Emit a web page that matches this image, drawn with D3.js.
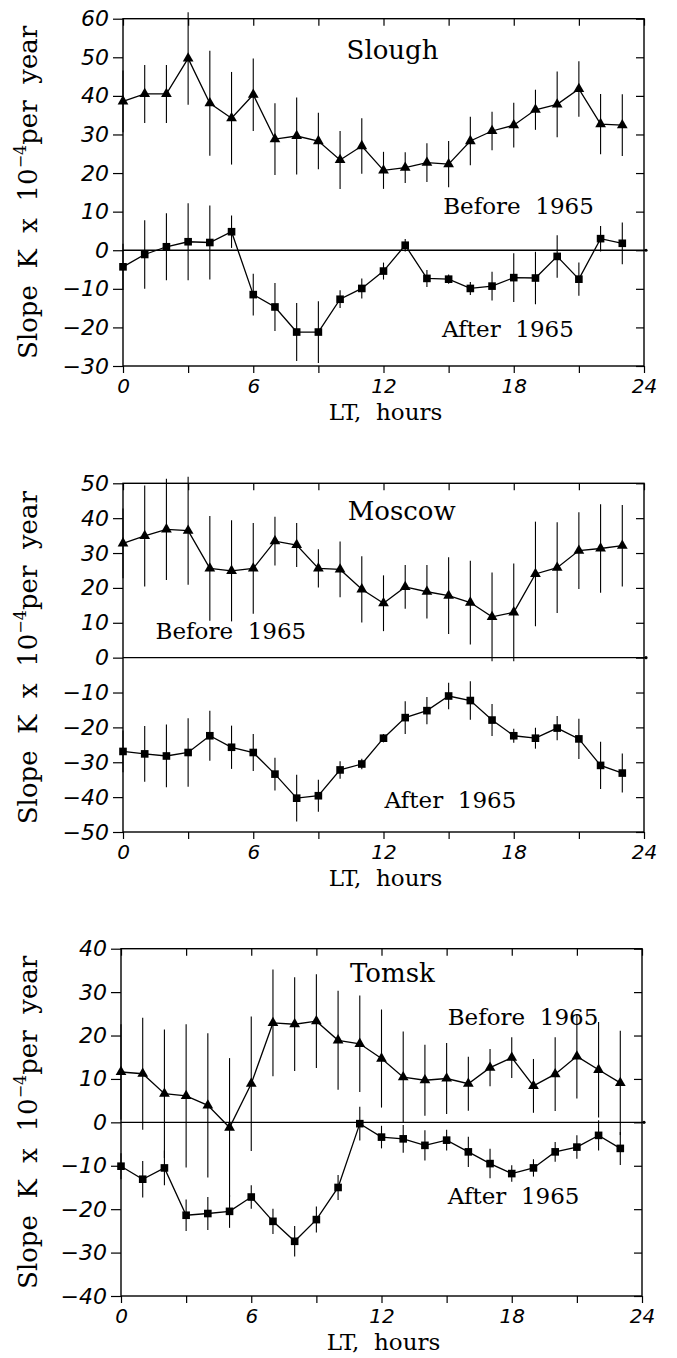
<!DOCTYPE html>
<html>
<head>
<meta charset="utf-8">
<script src="https://cdn.jsdelivr.net/npm/d3@7/dist/d3.min.js"></script>
<style>
  body { margin: 0; background: #fff; }
  svg { display: block; }
</style>
</head>
<body>
<svg id="chart" width="677" height="1358"></svg>
<script>
const hours = [0, 1, 2, 3, 4, 5, 6, 7, 8, 9, 10, 11, 12, 13, 14, 15, 16, 17, 18, 19, 20, 21, 22, 23];
const xTicks = [0, 3, 6, 9, 12, 15, 18, 21, 24];
const xLabelTicks = [0, 6, 12, 18, 24];

const stations = ["Slough", "Moscow", "Tomsk"];
const seriesNames = ["Before  1965", "After  1965"];
const yDomains = [[-30, 60], [-50, 50], [-40, 40]];
const yTicks = [
    [-30, -20, -10, 0, 10, 20, 30, 40, 50, 60],
    [-50, -40, -30, -20, -10, 0, 10, 20, 30, 40, 50],
    [-40, -30, -20, -10, 0, 10, 20, 30, 40]
];

// Slough
const sloughBefore = [38.6, 40.5, 40.5, 49.7, 38.1, 34.2, 40.3, 28.8, 29.6, 28.3, 23.4, 27.0, 20.7, 21.4, 22.7, 22.3, 28.3, 30.9, 32.4, 36.4, 37.8, 41.8, 32.7, 32.4];
const sloughBeforeErr = [8, 7.5, 7.5, 12, 13.6, 12, 9.4, 9.3, 10, 7.3, 7.5, 7.2, 4.8, 4, 5, 6, 6.3, 5, 5.8, 5.2, 8.5, 7.2, 7.8, 8];
const sloughAfter = [-4.3, -1.1, 0.9, 2.2, 2.0, 4.8, -11.5, -14.7, -21.2, -21.2, -12.7, -9.9, -5.4, 1.3, -7.3, -7.5, -9.9, -9.3, -7.1, -7.2, -1.6, -7.5, 3.0, 1.8];
const sloughAfterErr = [6, 8.9, 8.7, 10, 9.6, 4.2, 5.4, 6.2, 7.5, 8, 2.3, 2.6, 2.2, 1.6, 2.2, 1.2, 1.7, 3.7, 6.3, 6.8, 5.5, 4.3, 3.3, 5.4];

// Moscow
const moscowBefore = [32.8, 34.9, 36.8, 36.4, 25.6, 24.9, 25.6, 33.4, 32.3, 25.6, 25.3, 19.6, 15.6, 20.3, 18.9, 17.8, 15.8, 11.7, 13.0, 24.0, 25.8, 30.7, 31.3, 32.1];
const moscowBeforeErr = [10, 14.5, 14.5, 15.5, 15, 14.5, 13, 7, 6.3, 5.5, 8, 9.5, 8, 6.3, 7.7, 11, 12, 12.7, 14, 15, 13, 11, 12.7, 11.7];
const moscowAfter = [-26.9, -27.6, -28.2, -27.2, -22.4, -25.7, -27.2, -33.4, -40.3, -39.6, -32.2, -30.5, -23.1, -17.2, -15.2, -11.0, -12.3, -17.9, -22.4, -23.1, -20.2, -23.3, -30.9, -33.1];
const moscowAfterErr = [6, 8, 9, 9.8, 7.2, 6.2, 5.3, 4.7, 6.7, 4.6, 2.5, 1.5, 1.2, 4.7, 3.9, 3.8, 5.5, 4.6, 2, 3, 3.5, 5.8, 6.8, 5.6];

// Tomsk
const tomskBefore = [11.6, 11.2, 6.6, 6.1, 3.9, -1.2, 8.9, 22.9, 22.6, 23.3, 18.9, 18.1, 14.7, 10.4, 9.7, 10.1, 8.9, 12.6, 14.9, 8.4, 11.1, 15.2, 12.1, 9.1];
const tomskBeforeErr = [11, 12.9, 14.8, 16.5, 16.6, 16, 15.5, 12.3, 10.8, 10.8, 11.4, 11.1, 11.3, 10.5, 8.2, 8.2, 6.2, 4.3, 4.7, 6.2, 8.5, 9.7, 11, 12];
const tomskAfter = [-10.1, -13.1, -10.5, -21.4, -21.0, -20.5, -17.2, -22.8, -27.4, -22.4, -15.0, -0.3, -3.4, -3.8, -5.3, -4.1, -6.8, -9.5, -11.8, -10.5, -6.8, -5.7, -3.0, -6.0];
const tomskAfterErr = [3, 4.2, 4, 3.6, 3.8, 3.8, 2.7, 2.9, 3.5, 3, 2.9, 3.9, 2.6, 3.2, 3.5, 2.4, 3.5, 3.4, 1.9, 2, 2.3, 2.7, 3.5, 3.8];

const beforeData = [sloughBefore, moscowBefore, tomskBefore];
const beforeErr = [sloughBeforeErr, moscowBeforeErr, tomskBeforeErr];
const afterData = [sloughAfter, moscowAfter, tomskAfter];
const afterErr = [sloughAfterErr, moscowAfterErr, tomskAfterErr];

// panel boxes in pixels, and where the labels sit (hour, value)
const boxes = [
    { left: 123, right: 644, top: 18.7, bottom: 366 },
    { left: 123, right: 644, top: 483.3, bottom: 832 },
    { left: 121, right: 642, top: 948.7, bottom: 1296 }
];
const labelSpots = [
    { name: [10.3, 49.5], before: [14.75, 9.3], after: [14.7, -22.6] },
    { name: [10.35, 39.5], before: [1.5, 5.4], after: [12.05, -43.1] },
    { name: [10.55, 32.3], before: [15.05, 22.4], after: [15.05, -18.7] }
];

const svg = d3.select("#chart");
svg.append("rect").attr("width", 677).attr("height", 1358).style("fill", "white");

const tickFont = "DejaVu Sans";
const textFont = "DejaVu Serif";

function minusFmt(d) {
    return d < 0 ? "\u2212" + (-d) : "" + d;
}

function drawPanel(i) {
    const b = boxes[i];
    const g = svg.append("g").attr("class", "panel");
    const x = d3.scaleLinear().domain([0, 24]).range([b.left, b.right]);
    const y = d3.scaleLinear().domain(yDomains[i]).range([b.bottom, b.top]);

    // zero line
    g.append("line")
        .attr("x1", b.left).attr("x2", b.right + 3)
        .attr("y1", y(0)).attr("y2", y(0))
        .style("stroke", "black").style("stroke-width", "1.3px");
    g.append("circle").attr("cx", b.right + 2).attr("cy", y(0)).attr("r", 1.6).style("fill", "black");

    // left axis with labels
    const left = g.append("g")
        .attr("transform", `translate(${b.left} 0)`)
        .call(d3.axisLeft(y).tickValues(yTicks[i]).tickSize(10).tickPadding(4).tickFormat(minusFmt));
    left.selectAll("text")
        .style("font-family", tickFont).style("font-style", "italic")
        .style("font-size", "22px").style("fill", "black");

    // right, top axes: ticks only, pointing inside
    const right = g.append("g")
        .attr("transform", `translate(${b.right} 0)`)
        .call(d3.axisRight(y).tickValues(yTicks[i]).tickSize(-8).tickFormat(""));
    const top = g.append("g")
        .attr("transform", `translate(0 ${b.top})`)
        .call(d3.axisTop(x).tickValues(xTicks).tickSize(-7).tickFormat(""));

    const bottom = g.append("g")
        .attr("transform", `translate(0 ${b.bottom})`)
        .call(d3.axisBottom(x).tickValues(xTicks).tickSize(7).tickPadding(6)
            .tickFormat(d => xLabelTicks.includes(d) ? d : ""));
    bottom.selectAll("text")
        .style("font-family", tickFont).style("font-style", "italic")
        .style("font-size", "20px").style("fill", "black");

    [left, right, top, bottom].forEach(ax => {
        ax.select(".domain").remove();
        ax.selectAll("line").style("stroke", "black").style("stroke-width", "1.2px");
    });

    // frame
    g.append("rect")
        .attr("x", b.left).attr("y", b.top)
        .attr("width", b.right - b.left).attr("height", b.bottom - b.top)
        .style("fill", "none").style("stroke", "black").style("stroke-width", "1.4px");

    // series
    const series = [
        { vals: beforeData[i], errs: beforeErr[i], sym: d3.symbolTriangle, size: 50 },
        { vals: afterData[i], errs: afterErr[i], sym: d3.symbolSquare, size: 58 }
    ];
    for (const s of series) {
        const pts = hours.map((h, k) => ({ h: h, v: s.vals[k], e: s.errs[k] }));
        g.append("g").selectAll("line")
            .data(pts).enter().append("line")
            .attr("x1", d => x(d.h)).attr("x2", d => x(d.h))
            .attr("y1", d => y(d.v - d.e)).attr("y2", d => y(d.v + d.e))
            .style("stroke", "black").style("stroke-width", "1.1px");
        g.append("path")
            .datum(pts)
            .attr("d", d3.line().x(d => x(d.h)).y(d => y(d.v)))
            .style("fill", "none").style("stroke", "black").style("stroke-width", "1.3px");
        g.append("g").selectAll("path")
            .data(pts).enter().append("path")
            .attr("transform", d => `translate(${x(d.h)} ${y(d.v)})`)
            .attr("d", d3.symbol(s.sym, s.size))
            .style("fill", "black");
    }

    // labels inside the plot
    const spot = labelSpots[i];
    g.append("text")
        .attr("x", x(spot.name[0])).attr("y", y(spot.name[1]))
        .style("font-family", textFont).style("font-size", "26px")
        .text(stations[i]);
    g.append("text")
        .attr("x", x(spot.before[0])).attr("y", y(spot.before[1]))
        .style("font-family", textFont).style("font-size", "23px").style("white-space", "pre")
        .text(seriesNames[0]);
    g.append("text")
        .attr("x", x(spot.after[0])).attr("y", y(spot.after[1]))
        .style("font-family", textFont).style("font-size", "23px").style("white-space", "pre")
        .text(seriesNames[1]);

    // x title
    g.append("text")
        .attr("x", (b.left + b.right) / 2 + 2).attr("y", b.bottom + 54)
        .attr("text-anchor", "middle")
        .style("font-family", textFont).style("font-size", "23px").style("white-space", "pre")
        .text("LT,  hours");

    // y title
    const cy = (b.top + b.bottom) / 2;
    const yt = g.append("text")
        .attr("transform", `translate(37 ${cy}) rotate(-90)`)
        .attr("text-anchor", "middle")
        .style("font-family", textFont).style("font-size", "26px").style("white-space", "pre");
    yt.append("tspan").text("Slope  K  x  10");
    yt.append("tspan").attr("dy", -11).style("font-size", "16px").text("\u22124");
    yt.append("tspan").attr("dy", 11).text("per  year");
}

stations.forEach((s, i) => drawPanel(i));
</script>
</body>
</html>
